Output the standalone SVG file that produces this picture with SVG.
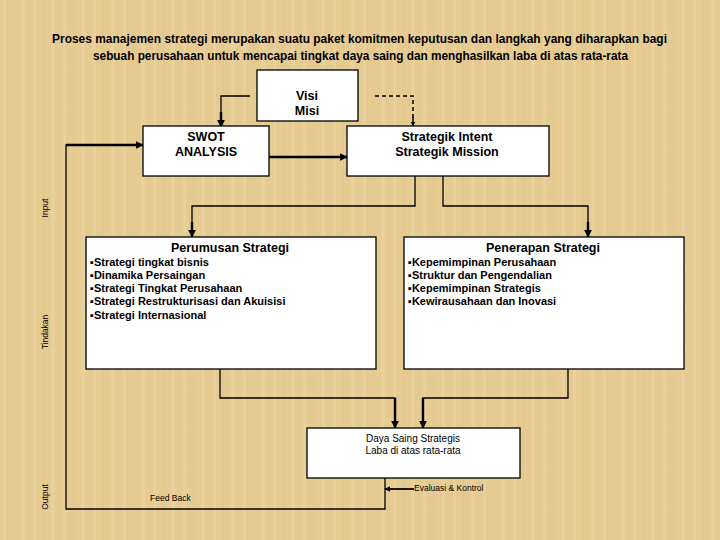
<svg xmlns="http://www.w3.org/2000/svg" width="720" height="540" viewBox="0 0 720 540">
<defs>
<pattern id="tex" width="30" height="40" patternUnits="userSpaceOnUse">
<rect width="30" height="40" fill="#E5CA91"/>
<rect x="3" width="3" height="40" fill="#EBD5A6" opacity="0.7"/>
<rect x="13" width="1" height="40" fill="#DCC189" opacity="0.5"/>
<rect x="21" width="4" height="40" fill="#ECD7AA" opacity="0.5"/>
<rect y="13" width="30" height="1" fill="#DDC38B" opacity="0.25"/>
<rect y="31" width="30" height="1" fill="#EDD8AC" opacity="0.3"/>
</pattern>
<marker id="ah" viewBox="0 0 10 10" refX="9" refY="5" markerWidth="3.2" markerHeight="3.2" orient="auto" markerUnits="strokeWidth">
<path d="M0,0 L10,5 L0,10 z" fill="#000"/>
</marker>
<style>
.box{fill:#fff;stroke:#000;stroke-width:1.3}
.ln{fill:none;stroke:#000;stroke-width:1.3}
.th{fill:none;stroke:#000;stroke-width:2.4;marker-end:url(#ah)}
.dash{fill:none;stroke:#000;stroke-width:1.5;stroke-dasharray:4,3}
.t{font-family:"Liberation Sans",Arial,sans-serif;font-size:12.5px;font-weight:bold;fill:#000;text-anchor:middle}
.b{font-family:"Liberation Sans",Arial,sans-serif;font-size:11px;font-weight:bold;fill:#000}
.r{font-family:"Liberation Sans",Arial,sans-serif;font-size:10px;fill:#000}
.s{font-family:"Liberation Sans",Arial,sans-serif;font-size:8.5px;fill:#000}
.title{font-family:"Liberation Sans",Arial,sans-serif;font-size:13px;font-weight:bold;fill:#000}
</style>
</defs>
<rect width="720" height="540" fill="url(#tex)"/>

<g id="title">
<text class="title" x="52" y="43" textLength="615" lengthAdjust="spacingAndGlyphs">Proses manajemen strategi merupakan suatu paket komitmen keputusan  dan langkah yang diharapkan bagi</text>
<text class="title" x="93" y="60" textLength="535" lengthAdjust="spacingAndGlyphs">sebuah perusahaan untuk mencapai tingkat daya saing dan menghasilkan laba di atas rata-rata</text>
</g>

<g id="side-labels">
<text class="s" transform="translate(48,208) rotate(-90)" text-anchor="middle">Input</text>
<text class="s" transform="translate(48,332) rotate(-90)" text-anchor="middle">Tindakan</text>
<text class="s" transform="translate(48,497) rotate(-90)" text-anchor="middle">Output</text>
</g>

<g id="connectors">
<path class="ln" d="M250,96 H221 V118"/>
<path class="th" d="M221,112 V127"/>
<path class="dash" d="M375,96 H413 V118"/>
<path class="th" d="M413,117 V126" style="stroke-width:1.5"/>
<path class="th" d="M269,157 H347"/>
<path class="ln" d="M415,176 V206 H192 V225"/>
<path class="th" d="M192,222 V237"/>
<path class="ln" d="M443,176 V206 H588 V225"/>
<path class="th" d="M588,222 V237"/>
<path class="ln" d="M220,369 V398 H395 V412"/>
<path class="th" d="M395,398 V428"/>
<path class="ln" d="M568,369 V398 H423 V412"/>
<path class="th" d="M423,398 V428"/>
<path class="ln" d="M385,478 V509 H66 V145 H130"/>
<path class="th" d="M66,145 H143"/>
<path class="th" d="M414,489 H385" style="stroke-width:1.8"/>
<text class="s" x="150" y="501">Feed Back</text>
<text class="s" x="414" y="491">Evaluasi &amp; Kontrol</text>
</g>

<g id="visi-misi">
<rect class="box" x="257" y="70" width="101" height="51"/>
<text class="t" x="307" y="100">Visi</text>
<text class="t" x="307" y="115">Misi</text>
</g>

<g id="swot">
<rect class="box" x="143" y="126" width="126" height="50"/>
<text class="t" x="206" y="141">SWOT</text>
<text class="t" x="206" y="156">ANALYSIS</text>
</g>

<g id="strategik">
<rect class="box" x="347" y="126" width="202" height="50"/>
<text class="t" x="447" y="141">Strategik Intent</text>
<text class="t" x="447" y="156">Strategik Mission</text>
</g>

<g id="perumusan">
<rect class="box" x="86" y="237" width="290" height="132"/>
<text class="t" x="230" y="252">Perumusan Strategi</text>
<text class="b" x="90" y="266">▪Strategi tingkat bisnis</text>
<text class="b" x="90" y="279">▪Dinamika Persaingan</text>
<text class="b" x="90" y="292">▪Strategi Tingkat Perusahaan</text>
<text class="b" x="90" y="305">▪Strategi Restrukturisasi dan Akuisisi</text>
<text class="b" x="90" y="319">▪Strategi Internasional</text>
</g>

<g id="penerapan">
<rect class="box" x="404" y="237" width="280" height="132"/>
<text class="t" x="543" y="252">Penerapan Strategi</text>
<text class="b" x="408" y="266">▪Kepemimpinan Perusahaan</text>
<text class="b" x="408" y="279">▪Struktur dan Pengendalian</text>
<text class="b" x="408" y="292">▪Kepemimpinan Strategis</text>
<text class="b" x="408" y="305">▪Kewirausahaan dan Inovasi</text>
</g>

<g id="daya-saing">
<rect class="box" x="307" y="428" width="213" height="50"/>
<text class="r" x="413" y="442" text-anchor="middle">Daya Saing Strategis</text>
<text class="r" x="413" y="454" text-anchor="middle">Laba di atas rata-rata</text>
</g>
</svg>
